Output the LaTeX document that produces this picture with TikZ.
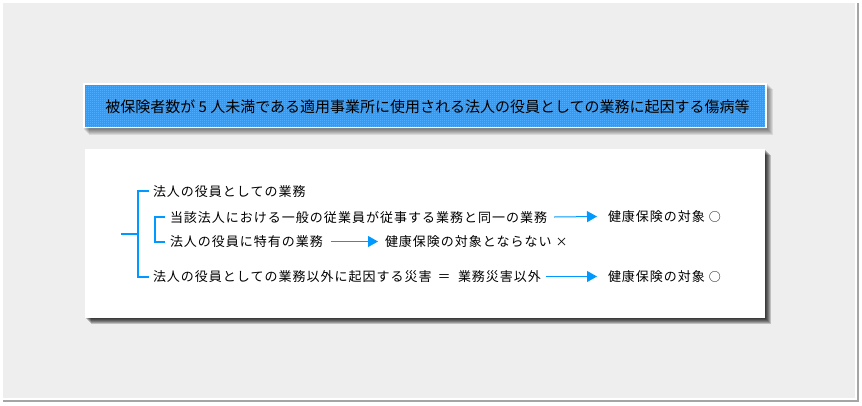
\documentclass[tikz,border=0pt]{standalone}
\usepackage{fontspec}
\newfontfamily\jpbody[LetterSpace=7.7]{Noto Sans CJK JP}
\newfontfamily\jptitle{Noto Sans CJK JP}
\usetikzlibrary{arrows.meta,patterns}
\pgfdeclarepatternformonly{finegrid}{\pgfpointorigin}{\pgfpoint{2pt}{2pt}}{\pgfpoint{2pt}{2pt}}{\pgfpathrectangle{\pgfpointorigin}{\pgfpoint{1pt}{1pt}}\pgfusepath{fill}}
\definecolor{bggray}{RGB}{238,238,238}
\definecolor{framesh}{RGB}{165,165,165}
\definecolor{linkblue}{RGB}{0,153,255}
\definecolor{titleblue}{RGB}{51,153,255}
\definecolor{titlelight}{RGB}{115,200,255}
\tikzset{
  bodytxt/.style={font=\jpbody\fontsize{13}{15}\selectfont, anchor=west, inner sep=0pt, outer sep=0pt, text height=11pt, text depth=1pt, text=black},
  titletxt/.style={font=\jptitle\fontsize{15}{17}\selectfont, inner sep=0pt, outer sep=0pt, text height=12.5pt, text depth=1pt},
  brk/.style={draw=linkblue, line width=2pt},
  arr/.style={draw=linkblue, line width=1pt, -{Triangle[length=10pt,width=11pt]}},
}
\newcommand\smallmark[1]{{\fontsize{12}{14}\selectfont #1}}
\begin{document}
\begin{tikzpicture}[x=1pt,y=-1pt]
\useasboundingbox (0,0) rectangle (862,405);
% outer frame
\fill[white] (0,0) rectangle (862,405);
\fill[framesh] (3,3) rectangle (859,402);
\fill[white] (1,1) rectangle (857,400);
\fill[bggray] (3,3) rectangle (855,398);
% title box shadow
\foreach \k in {1,...,6} \fill[black, opacity=0.09] (83+\k,83+\k) rectangle (767+\k,128.5+\k);
\fill[white] (83.3,83.3) rectangle (766.7,128.3);
\fill[titleblue] (85,85) rectangle (765,126.5);
\fill[pattern=finegrid, pattern color=titlelight] (85,85) rectangle (765,126.5);
% main box shadow
\foreach \k in {1,...,6} \fill[black, opacity=0.2] (85+\k,149+\k) rectangle (765+\k,318+\k);
\fill[white] (85,149) rectangle (765,318);
% title text
\node[titletxt, text=black] (title) at (427.5,106.5) {被保険者数が 5 人未満である適用事業所に使用される法人の役員としての業務に起因する傷病等};
% body texts
\node[bodytxt] (t1) at (153,191) {法人の役員としての業務};
\node[bodytxt] (t2) at (170,217) {当該法人における一般の従業員が従事する業務と同一の業務};
\node[bodytxt] (t3) at (170,241.5) {法人の役員に特有の業務};
\node[bodytxt] (t4) at (153,276.5) {法人の役員としての業務以外に起因する災害};
\node[bodytxt, anchor=center] (eq) at (444,276.5) {＝};
\node[bodytxt] (t4b) at (458,276.5) {業務災害以外};
\node[bodytxt] (r2) at (608,216.5) {健康保険の対象 \smallmark{○}};
\node[bodytxt] (r3) at (385,241.5) {健康保険の対象とならない \smallmark{×}};
\node[bodytxt] (r4) at (608,276.5) {健康保険の対象 \smallmark{○}};
% brackets
\coordinate (root) at (121,234);
\draw[brk] ([xshift=-4pt]t1.west) -- ++(-11.5,0) |- ([xshift=-4pt]t4.west);
\draw[brk] ([xshift=-5pt]t2.west) -- ++(-10.5,0) |- ([xshift=-5pt]t3.west);
\draw[brk] (root) -- (137.5,234);
% arrows
\draw[arr] ([xshift=7pt]t2.east) -- ([xshift=-11pt]r2.west);
\draw[arr] ([xshift=8pt]t3.east) -- ([xshift=-7pt]r3.west);
\draw[arr] ([xshift=5pt]t4b.east) -- ([xshift=-11pt]r4.west);
\end{tikzpicture}
\end{document}
